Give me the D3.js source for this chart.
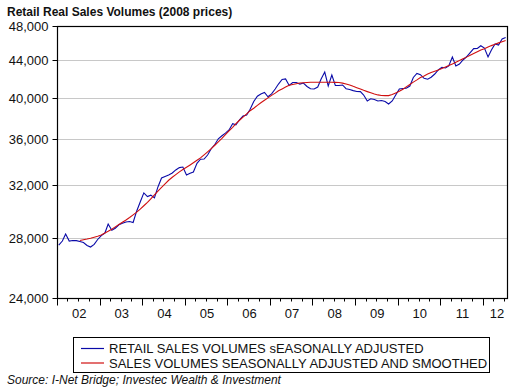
<!DOCTYPE html>
<html lang="en">
<head>
  <meta charset="UTF-8">
  <title>Retail Real Sales Volumes</title>
  <script src="https://d3js.org/d3.v7.min.js"></script>
  <style>
    body {
      margin: 0;
      background: #ffffff;
      font-family: "Liberation Sans", Arial, sans-serif;
    }
    svg { display: block; }
    .grid line { stroke: #c8c8c8; stroke-width: 1px; }
    .axis text { fill: #111; font-size: 13px; }
    .axis line, .axis path { stroke: #000; }
  </style>
</head>
<body>
<div id="chart"></div>
<script>
  // monthly series, Jan 2002 .. Jul 2012
  const rawStart = [2002, 0];
  const rawSales = [
    27470, 27750, 28250, 27750, 27790, 27780, 27720, 27640, 27440, 27330, 27510, 27860,
    28140, 28320, 28980, 28520, 28670, 28920, 29030, 29130, 29170, 29090, 29960, 30650,
    31370, 31080, 31190, 30970, 31850, 32590, 32710, 32840, 33000, 33260, 33460, 33510,
    32840, 32980, 33090, 33830, 34180, 34200, 34550, 35110, 35490, 36010, 36290, 36530,
    36830, 37420, 37320, 37800, 38160, 38260, 38830, 39600, 40130, 40370, 40520, 40080,
    40370, 40880, 41400, 41880, 41940, 41250, 41560, 41560, 41400, 41510, 41140, 40910,
    40880, 41090, 41940, 42690, 41200, 42370, 41250, 41250, 41300, 40910, 40830, 40710,
    40620, 40610, 40260, 39650, 39870, 39800, 39650, 39700, 39600, 39350, 39650, 40260,
    40880, 40930, 40950, 41190, 42100, 42530, 42400, 42010, 41910, 42120, 42470, 42910,
    43210, 43130, 43350, 44360, 43350, 43570, 44020, 44380, 44860, 45310, 45330, 45650,
    45370, 44360, 45150, 45850, 45730, 46440, 46620
  ];

  // smoothed series, Jul 2002 .. Jul 2012
  const smoothStart = [2002, 6];
  const smoothSales = [
    27790, 27840, 27890, 27950, 28020, 28090,
    28180, 28330, 28450, 28600, 28770, 28940, 29110, 29280, 29460, 29660, 29870, 30100,
    30360, 30620, 30900, 31210, 31520, 31820, 32110, 32400, 32650, 32870, 33100, 33300,
    33490, 33690, 33880, 34090, 34300, 34570, 34830, 35110, 35420, 35730, 36050, 36400,
    36740, 37080, 37420, 37750, 38060, 38370, 38680, 38930, 39210, 39470, 39720, 39970,
    40220, 40450, 40690, 40890, 41080, 41270, 41360, 41440, 41510, 41540, 41570, 41590,
    41590, 41590, 41590, 41590, 41590, 41590, 41580, 41570, 41500, 41410, 41310, 41160,
    41020, 40870, 40740, 40610, 40490, 40370, 40270, 40210, 40200, 40200, 40310, 40470,
    40640, 40860, 41100, 41350, 41600, 41840, 42090, 42270, 42470, 42640, 42780, 42920,
    43080, 43250, 43410, 43580, 43770, 43950, 44150, 44340, 44550, 44750, 44950, 45140,
    45300, 45490, 45660, 45810, 45980, 46120, 46260
  ];

  const yTicks = [24000, 28000, 32000, 36000, 40000, 44000, 48000];
  const yearLabels = ["02", "03", "04", "05", "06", "07", "08", "09", "10", "11", "12"];
  const legendLabels = [
    "RETAIL SALES VOLUMES sEASONALLY ADJUSTED",
    "SALES VOLUMES SEASONALLY ADJUSTED AND SMOOTHED"
  ];
  const title = "Retail Real Sales Volumes (2008 prices)";
  const source = "Source: I-Net Bridge; Investec Wealth & Investment";

  const width = 523, height = 389;
  const plot = { left: 57, top: 26, right: 507.5, bottom: 298 };
  const blue = "#0a0aa8", red = "#d01010";

  const toSeries = (start, vals) => vals.map((v, i) => ({
    date: new Date(start[0], start[1] + i, 16),
    value: v
  }));
  const sales = toSeries(rawStart, rawSales);
  const smooth = toSeries(smoothStart, smoothSales);

  const svg = d3.select("#chart").append("svg")
    .attr("width", width)
    .attr("height", height);

  const x = d3.scaleTime()
    .domain([new Date(2002, 0, 1), new Date(2012, 7, 1)])
    .range([plot.left, plot.right]);

  const y = d3.scaleLog()
    .domain([24000, 48000])
    .range([plot.bottom, plot.top]);

  // gridlines
  svg.append("g").attr("class", "grid")
    .selectAll("line")
    .data(yTicks.slice(1, -1))
    .enter().append("line")
    .attr("x1", plot.left).attr("x2", plot.right)
    .attr("y1", d => Math.round(y(d)) + 0.5)
    .attr("y2", d => Math.round(y(d)) + 0.5);

  // y axis
  const yAxis = svg.append("g").attr("class", "axis")
    .attr("transform", `translate(${plot.left + 0.5},0)`)
    .call(d3.axisLeft(y).tickValues(yTicks).tickFormat(d3.format(",")).tickSize(5).tickPadding(4));
  yAxis.select(".domain").remove();
  yAxis.selectAll(".tick").attr("transform", d => `translate(0,${Math.round(y(d)) + 0.5})`);

  // x axis: major year ticks + quarterly minor ticks
  const years = d3.timeYear.range(new Date(2002, 0, 1), new Date(2012, 7, 2));
  const quarters = d3.timeMonth.every(3).range(new Date(2002, 0, 1), new Date(2012, 7, 2))
    .filter(d => d.getMonth() !== 0);

  const xAxis = svg.append("g").attr("class", "axis")
    .attr("transform", `translate(0,${plot.bottom + 0.5})`);
  xAxis.call(d3.axisBottom(x).tickValues(years).tickSize(7).tickFormat(""));
  xAxis.select(".domain").remove();
  xAxis.selectAll(".tick").attr("transform", d => `translate(${Math.round(x(d)) + 0.5},0)`);

  const xMinor = svg.append("g").attr("class", "axis")
    .attr("transform", `translate(0,${plot.bottom + 0.5})`)
    .call(d3.axisBottom(x).tickValues(quarters).tickSize(3).tickFormat(""));
  xMinor.select(".domain").remove();
  xMinor.selectAll(".tick").attr("transform", d => `translate(${Math.round(x(d)) + 0.5},0)`);

  svg.append("g").attr("class", "axis")
    .selectAll("text")
    .data(years)
    .enter().append("text")
    .attr("x", (d, i) => {
      const a = x(d), b = Math.min(x(d3.timeYear.offset(d, 1)), plot.right);
      return (a + b) / 2 + (i === years.length - 1 ? 2 : 1);
    })
    .attr("y", plot.bottom + 20)
    .attr("text-anchor", "middle")
    .text((d, i) => yearLabels[i]);

  // lines
  const line = d3.line()
    .x(d => x(d.date))
    .y(d => y(d.value));

  svg.append("path")
    .datum(sales)
    .attr("fill", "none")
    .attr("stroke", blue)
    .attr("stroke-width", 1.1)
    .attr("d", line);

  svg.append("path")
    .datum(smooth)
    .attr("fill", "none")
    .attr("stroke", red)
    .attr("stroke-width", 1.1)
    .attr("d", line);

  // frame
  svg.append("rect")
    .attr("x", plot.left + 0.5).attr("y", plot.top + 0.5)
    .attr("width", plot.right - plot.left - 0.5)
    .attr("height", plot.bottom - plot.top)
    .attr("fill", "none")
    .attr("stroke", "#000")
    .attr("stroke-width", 1.2);

  // title
  svg.append("text")
    .attr("x", 7).attr("y", 16)
    .attr("font-size", "12px")
    .attr("font-weight", "bold")
    .attr("fill", "#111")
    .text(title);

  // legend
  const lg = svg.append("g");
  lg.append("rect")
    .attr("x", 73.5).attr("y", 337.5)
    .attr("width", 416).attr("height", 35)
    .attr("fill", "#fff")
    .attr("stroke", "#000");

  const items = lg.selectAll("g.item")
    .data(legendLabels)
    .enter().append("g")
    .attr("transform", (d, i) => `translate(0,${348 + i * 14.5})`);
  items.append("line")
    .attr("x1", 81).attr("x2", 104)
    .attr("y1", 0.5).attr("y2", 0.5)
    .attr("stroke", (d, i) => i === 0 ? blue : red)
    .attr("stroke-width", 1.2);
  items.append("text")
    .attr("x", 109).attr("y", 5)
    .attr("font-size", "13px")
    .attr("fill", "#111")
    .text(d => d);

  // source
  svg.append("text")
    .attr("x", 7).attr("y", 384)
    .attr("font-size", "12px")
    .attr("font-style", "italic")
    .attr("fill", "#111")
    .text(source);
</script>
</body>
</html>
